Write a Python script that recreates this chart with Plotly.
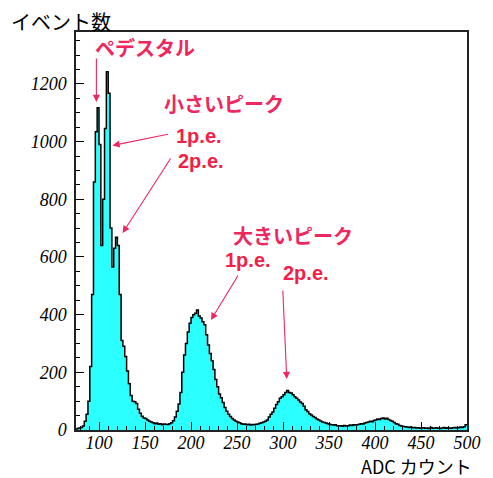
import numpy as np
import plotly.graph_objects as go

# ADC histogram: 2-count bins from 76 to 500
bin_start = 76
bin_width = 2
counts = [
    5, 7, 9, 14, 30, 55, 100, 220, 470, 860,
    1034, 1117, 990, 640, 800, 1045, 1242, 1168, 700, 565,
    630, 668, 640, 470, 310, 290, 255, 205, 160, 120,
    100, 98, 92, 72, 58, 48, 42, 40, 35, 30,
    28, 25, 22, 24, 20, 22, 18, 21, 20, 19,
    22, 25, 32, 45, 65, 90, 130, 200, 260, 300,
    340, 370, 390, 400, 405, 416, 395, 388, 375, 365,
    330, 295, 265, 240, 210, 175, 150, 125, 112, 95,
    78, 65, 55, 47, 40, 35, 30, 28, 25, 22,
    20, 21, 18, 20, 17, 19, 18, 20, 21, 23,
    25, 28, 30, 35, 45, 55, 62, 75, 88, 98,
    110, 115, 122, 130, 137, 130, 128, 122, 115, 110,
    104, 97, 92, 82, 70, 64, 56, 52, 47, 43,
    38, 35, 31, 28, 26, 24, 22, 20, 18, 17,
    18, 15, 14, 15, 13, 16, 14, 15, 17, 16,
    18, 17, 18, 20, 22, 21, 24, 26, 28, 30,
    29, 33, 35, 38, 36, 40, 42, 38, 41, 36,
    33, 30, 26, 22, 20, 16, 14, 12, 11, 10,
    9, 10, 8, 9, 7, 8, 6, 7, 8, 6,
    7, 5, 9, 6, 7, 8, 6, 5, 7, 9,
    6, 8, 7, 6, 8, 9, 7, 8, 10, 9,
    11, 18,
]

x_ticks = [100, 150, 200, 250, 300, 350, 400, 450, 500]
y_ticks = [0, 200, 400, 600, 800, 1000, 1200]

x_title = "ADC カウント"
y_title = "イベント数"
red_labels = ["ペデスタル", "小さいピーク", "1p.e.", "2p.e.", "大きいピーク", "1p.e.", "2p.e."]

edges = bin_start + bin_width * np.arange(len(counts) + 1)
step_x = np.concatenate([[edges[0]], edges])
step_y = np.concatenate([[0], counts, [counts[-1]]])

W, H = 493, 478
ML, MR, MT, MB = 76, 20, 32, 48
PW, PH = W - ML - MR, H - MT - MB


def paper(px, py):
    return (px - ML) / PW, (H - MB - py) / PH


fig = go.Figure()
fig.add_trace(go.Scatter(
    x=step_x, y=step_y, mode="lines", line_shape="hv",
    line=dict(color="black", width=1.5),
    fill="tozeroy", fillcolor="#2CFFFF", hoverinfo="skip",
    showlegend=False,
))

tick_font = dict(family="Liberation Serif", size=18, color="black", style="italic")
axis_common = dict(
    showline=True, linecolor="#222", linewidth=1.5, mirror=True,
    showgrid=False, zeroline=False, ticks="inside", ticklen=8,
    tickwidth=1, tickcolor="black", tickfont=tick_font,
)
fig.update_xaxes(range=[75, 500], tickvals=x_ticks, ticklabelstandoff=-4,
                 minor=dict(dtick=10, tick0=0, ticks="inside", ticklen=4, tickcolor="black"),
                 **axis_common)
fig.update_yaxes(range=[0, 1380], tickvals=y_ticks, ticklabelstandoff=4,
                 minor=dict(dtick=50, tick0=0, ticks="inside", ticklen=4, tickcolor="black"),
                 **axis_common)

annotations = []
jp_font = "Noto Sans CJK JP"
# axis titles
xp, yp = paper(61, 21)
annotations.append(dict(x=xp, y=yp, xref="paper", yref="paper", text=y_title,
                        showarrow=False, xanchor="center", yanchor="middle",
                        font=dict(family=jp_font, size=20, color="black")))
xp, yp = paper(479, 465.5)
annotations.append(dict(x=xp, y=yp, xref="paper", yref="paper", text=x_title,
                        showarrow=False, xanchor="right", yanchor="middle", borderpad=0,
                        font=dict(family=jp_font, size=18, color="black")))

# peak labels (Japanese headings in a CJK gothic, p.e. tags in a Latin sans)
label_pos = [(146, 48), (226, 103), (201, 136), (203, 161), (296, 235), (251, 260), (310, 273)]
for text, (px, py) in zip(red_labels, label_pos):
    xp, yp = paper(px, py)
    is_pe = "p.e." in text
    annotations.append(dict(
        x=xp, y=yp, xref="paper", yref="paper", text=f"<b>{text}</b>",
        showarrow=False, xanchor="center", yanchor="middle", borderpad=0,
        font=dict(family="Liberation Sans" if is_pe else jp_font, size=20,
                  color="#F41E48" if is_pe else "#F0265E")))

# arrows: head position and tail offset in pixels
arrows = [((96.7, 102), (0, -45)), ((113, 145.5), (57, -11.5)), ((123.3, 233), (49, -76)),
          ((213, 320), (28, -46)), ((290, 379), (-4, -90))]
for (hx, hy), (ax, ay) in arrows:
    xp, yp = paper(hx, hy)
    annotations.append(dict(x=xp, y=yp, xref="paper", yref="paper", text="",
                            showarrow=True, ax=ax, ay=ay, arrowhead=2, arrowsize=1.3,
                            arrowwidth=1.1, arrowcolor="#F0265E", standoff=0))

fig.update_layout(
    width=W, height=H, margin=dict(l=ML, r=MR, t=MT, b=MB),
    paper_bgcolor="white", plot_bgcolor="white",
    annotations=annotations, showlegend=False,
)

fig.write_html("out.html")
